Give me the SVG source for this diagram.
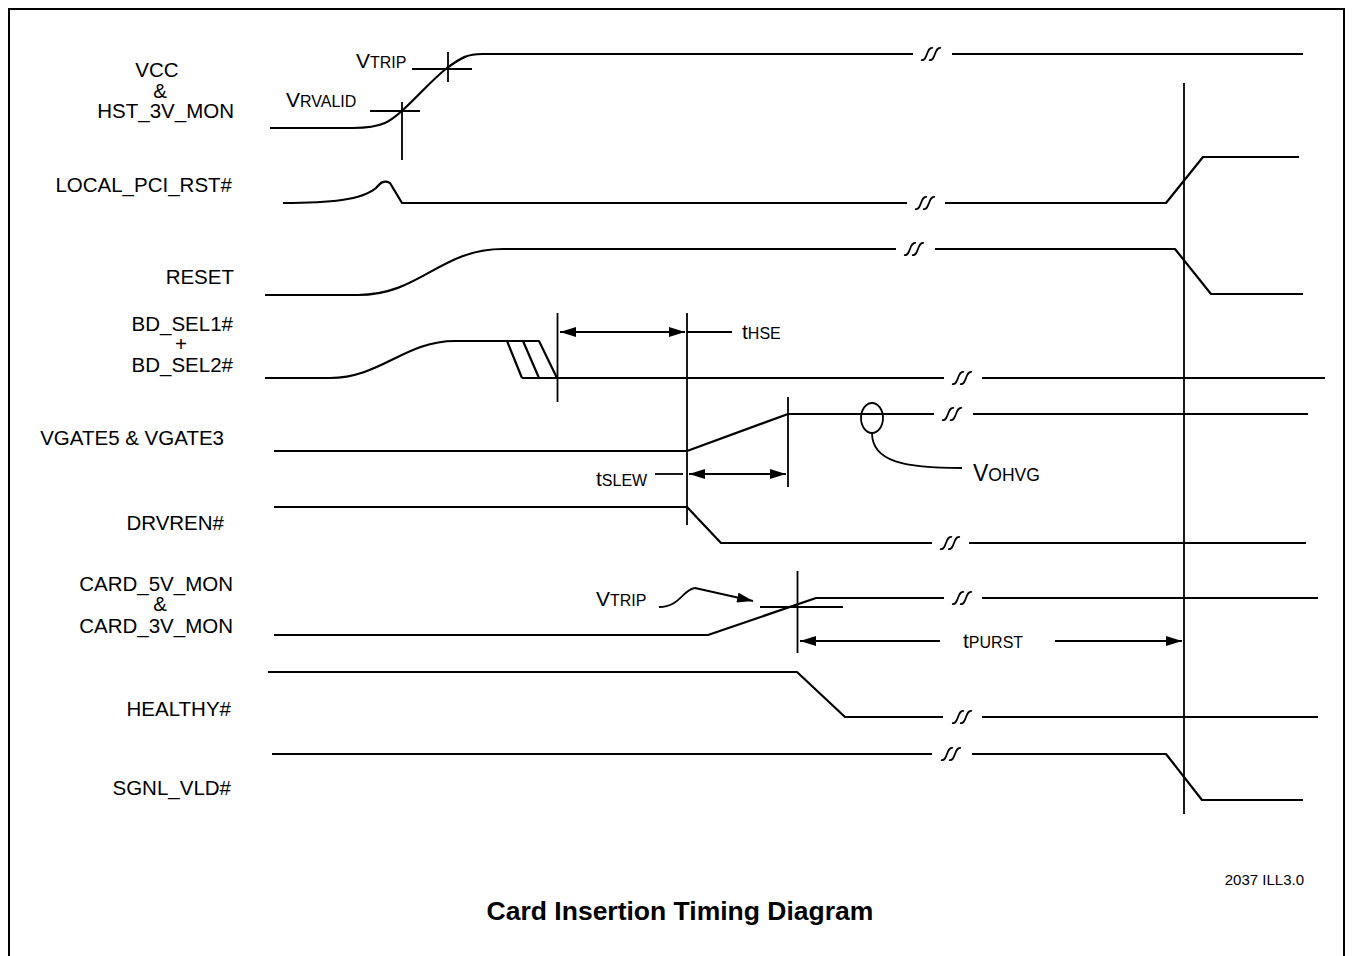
<svg xmlns="http://www.w3.org/2000/svg" width="1353" height="956" viewBox="0 0 1353 956">
<style>
.s{fill:none;stroke:#000;stroke-width:2.2;stroke-linejoin:round}
.t{stroke-width:1.8}
.lb{font-family:"Liberation Sans",Arial,sans-serif;font-size:20.5px;fill:#000}
.big{font-family:"Liberation Sans",Arial,sans-serif;font-size:21px;fill:#000}
.sm{font-size:16px}
.vo{font-size:23px}
.vo .sm{font-size:17.5px}
.title{font-family:"Liberation Sans",Arial,sans-serif;font-size:26.5px;font-weight:bold;fill:#000}
.note{font-family:"Liberation Sans",Arial,sans-serif;font-size:15px;fill:#000}
</style>
<defs>
<marker id="ah" viewBox="0 0 16 10" refX="16" refY="5" markerWidth="16" markerHeight="10" markerUnits="userSpaceOnUse" orient="auto-start-reverse">
<path d="M0,0 L16,5 L0,10 Z" fill="#000"/>
</marker>
<path id="brk" d="M-11,6 C-4,8 -6,-8 1,-6 M-3,6 C4,8 2,-8 9,-6" fill="none" stroke="#000" stroke-width="1.8"/>
</defs>
<rect x="9" y="9" width="1335" height="960" fill="#fff" stroke="#000" stroke-width="2"/>

<g id="labels">
<text class="lb" x="157" y="77" text-anchor="middle">VCC</text>
<text class="lb" x="160" y="98" text-anchor="middle">&amp;</text>
<text class="lb" x="234" y="118" text-anchor="end">HST_3V_MON</text>
<text class="lb" x="232" y="192" text-anchor="end">LOCAL_PCI_RST#</text>
<text class="lb" x="234" y="284" text-anchor="end">RESET</text>
<text class="lb" x="233" y="331" text-anchor="end">BD_SEL1#</text>
<text class="lb" x="181" y="351" text-anchor="middle">+</text>
<text class="lb" x="233" y="372" text-anchor="end">BD_SEL2#</text>
<text class="lb" x="224" y="445" text-anchor="end">VGATE5 &amp; VGATE3</text>
<text class="lb" x="224" y="530" text-anchor="end">DRVREN#</text>
<text class="lb" x="233" y="591" text-anchor="end">CARD_5V_MON</text>
<text class="lb" x="160" y="611" text-anchor="middle">&amp;</text>
<text class="lb" x="233" y="633" text-anchor="end">CARD_3V_MON</text>
<text class="lb" x="231" y="716" text-anchor="end">HEALTHY#</text>
<text class="lb" x="231" y="795" text-anchor="end">SGNL_VLD#</text>
</g>

<g id="sig-vcc">
<path class="s" d="M270,128 L353,128 C383,128 391,121 404,109 C420,94 433,79 447,68 C462,57 468,54 482,54 L913,54 M952,54 L1303,54"/>
<use href="#brk" x="932" y="54"/>
<path class="s t" d="M402,102 V160 M370,111 H420 M448,52 V82 M412,69 H472"/>
<text class="big" x="356" y="68">V<tspan class="sm">TRIP</tspan></text>
<text class="big" x="286" y="107">V<tspan class="sm">RVALID</tspan></text>
</g>

<g id="sig-localpci">
<path class="s" d="M283,203 C330,203 362,200 376,188 C381,182 384,180 390,183 L402,203 L907,203 M945,203 L1166,203 L1203,157 L1299,157"/>
<use href="#brk" x="926" y="203"/>
</g>

<g id="sig-reset">
<path class="s" d="M265,295 L358,295 C420,295 440,249 503,249 L896,249 M935,249 L1175,249 L1211,294 L1303,294"/>
<use href="#brk" x="915" y="249"/>
</g>

<g id="sig-bdsel">
<path class="s" d="M265,378 L330,378 C380,378 405,341 455,341 L539,341 L557,378 M522,378 L944,378 M982,378 L1325,378 M507,341 L522,378 M523,341 L539,378"/>
<use href="#brk" x="963" y="378"/>
<path class="s t" d="M557.5,313 V402"/>
<line class="s t" x1="560" y1="332" x2="685" y2="332" marker-start="url(#ah)" marker-end="url(#ah)"/>
<path class="s t" d="M687,332 H732"/>
<text class="big" x="742" y="339">t<tspan class="sm">HSE</tspan></text>
</g>

<g id="sig-vgate">
<path class="s" d="M274,451 L687,451 L788,414 L934,414 M973,414 L1308,414"/>
<use href="#brk" x="953" y="414"/>
<path class="s t" d="M788,397 V487"/>
<ellipse class="s t" cx="872" cy="418" rx="11" ry="15"/>
<path class="s t" d="M872,433 C872,462 905,468 962,468"/>
<text class="big vo" x="973" y="481">V<tspan class="sm">OHVG</tspan></text>
<path class="s t" d="M655,474 H683"/>
<line class="s t" x1="689" y1="474" x2="786" y2="474" marker-start="url(#ah)" marker-end="url(#ah)"/>
<text class="big" x="596" y="486">t<tspan class="sm">SLEW</tspan></text>
</g>

<g id="sig-drvren">
<path class="s" d="M274,507 L687,507 L721,543 L932,543 M969,543 L1306,543"/>
<use href="#brk" x="951" y="543"/>
<path class="s t" d="M687,313 V525"/>
</g>

<g id="sig-card">
<path class="s" d="M274,635 L708,635 L816,598 L944,598 M982,598 L1318,598"/>
<use href="#brk" x="963" y="598"/>
<path class="s t" d="M797.5,571 V653 M760,607 H843"/>
<path class="s t" d="M659,607 C680,607 682,590 695,588 L753,601" marker-end="url(#ah)"/>
<text class="big" x="596" y="606">V<tspan class="sm">TRIP</tspan></text>
<line class="s t" x1="800" y1="641" x2="940" y2="641" marker-start="url(#ah)"/>
<line class="s t" x1="1055" y1="641" x2="1182" y2="641" marker-end="url(#ah)"/>
<text class="big" x="963" y="648">t<tspan class="sm">PURST</tspan></text>
</g>

<g id="sig-healthy">
<path class="s" d="M268,672 L797,672 L845,717 L943,717 M982,717 L1318,717"/>
<use href="#brk" x="963" y="717"/>
</g>

<g id="sig-sgnl">
<path class="s" d="M272,754 L932,754 M972,754 L1166,754 L1202,800 L1303,800"/>
<use href="#brk" x="952" y="754"/>
</g>

<g id="connectors">
<path class="s t" d="M1184,83 V814"/>
</g>

<text class="note" x="1304" y="885" text-anchor="end">2037 ILL3.0</text>
<text class="title" x="680" y="920" text-anchor="middle">Card Insertion Timing Diagram</text>
</svg>
